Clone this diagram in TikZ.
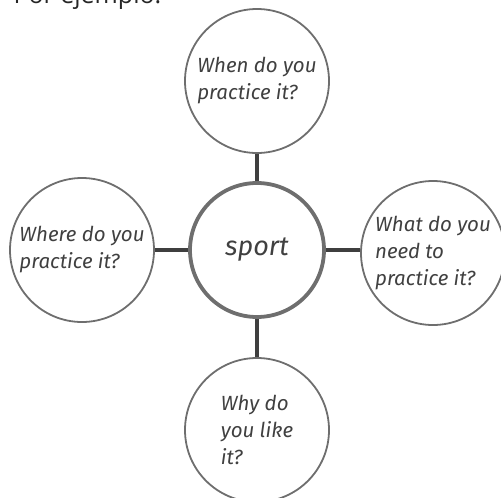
\documentclass[tikz,border=0pt]{standalone}
\usepackage{fontspec}
\setmainfont{Fira Sans}
\newfontfamily\topfont{Open Sans}
\definecolor{ringgray}{HTML}{6E6E6E}
\definecolor{linkgray}{HTML}{3F3F3F}
\definecolor{textgray}{HTML}{404040}
\begin{document}
\begin{tikzpicture}[x=1pt,y=-1pt,
  bubble/.style={circle,draw=ringgray,line width=1.8pt,minimum size=144pt,inner sep=0pt,
    align=left,text=textgray,font=\fontsize{20.5}{27}\selectfont\itshape},
  hub/.style={circle,draw=ringgray,line width=3.8pt,minimum size=134pt,inner sep=0pt,
    text=textgray,font=\fontsize{27}{30}\selectfont\itshape},
  link/.style={draw=linkgray,line width=4pt}]
\useasboundingbox (0,0) rectangle (501,498);
\node[anchor=base west,font=\topfont\fontsize{25}{30}\selectfont,text=black!85] (title) at (10,3) {Por ejemplo:};
\node[hub] (c) at (257,250) {sport};
\node[bubble] (t) at (257,81) {When do you\\practice it?};
\node[bubble] (l) at (82,250) {Where do you\\practice it?};
\node[bubble] (r) at (433,253) {What do you\\need to\\practice it?};
\node[bubble] (b) at (257,430) {Why do\\you like\\it?};
\path[link] (c.north) -- (t.south);
\path[link] (c.south) -- (b.north);
\path[link] (c.west) -- (l.east |- c.west);
\path[link] (c.east) -- (r.west |- c.east);
\end{tikzpicture}
\end{document}
